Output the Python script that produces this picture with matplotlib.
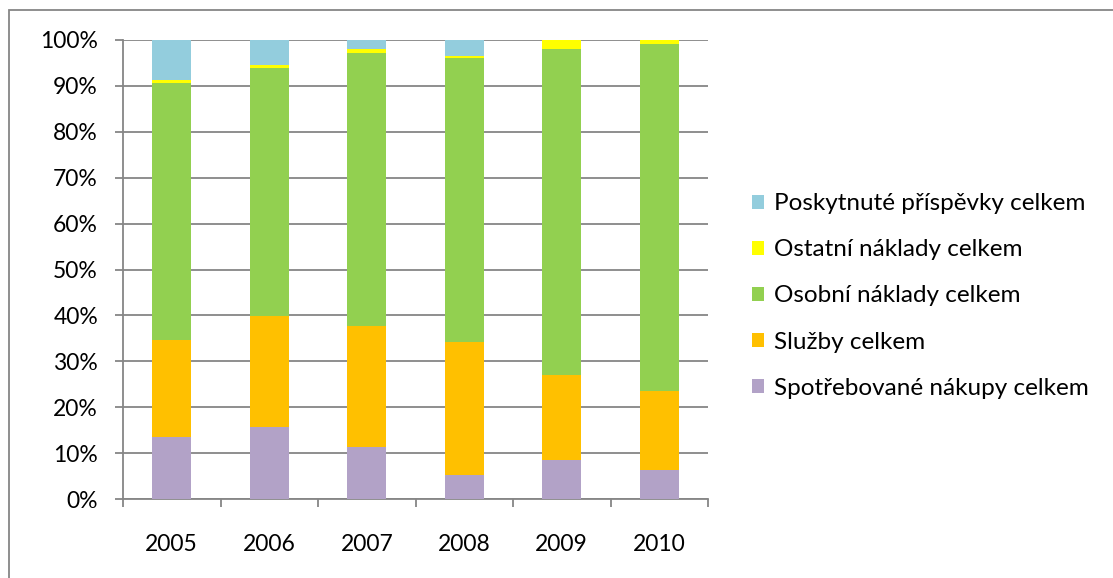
import numpy as np
import matplotlib
matplotlib.use("Agg")
import matplotlib.pyplot as plt
from matplotlib.patches import Rectangle
from matplotlib.ticker import FixedLocator, PercentFormatter

plt.rcParams['font.family'] = ['Lato', 'DejaVu Sans']

# Data (share of total costs, %)
years = ["2005", "2006", "2007", "2008", "2009", "2010"]
spotrebovane = [13.4, 15.7, 11.4, 5.2, 8.6, 6.3]
sluzby = [21.2, 24.2, 26.2, 29.1, 18.4, 17.2]
osobni = [56.0, 54.1, 59.5, 61.8, 71.0, 75.6]
ostatni = [0.7, 0.6, 0.9, 0.5, 2.0, 0.9]
prispevky = [8.7, 5.4, 2.0, 3.4, 0.0, 0.0]

series = [
    ("Spotřebované nákupy celkem", spotrebovane, "#B2A2C7"),
    ("Služby celkem", sluzby, "#FFC000"),
    ("Osobní náklady celkem", osobni, "#92D050"),
    ("Ostatní náklady celkem", ostatni, "#FFFF00"),
    ("Poskytnuté příspěvky celkem", prispevky, "#93CDDD"),
]

W, H = 1113, 578
fig = plt.figure(figsize=(W / 100, H / 100), dpi=100)
ax = fig.add_axes([123 / W, 1 - 499 / H, (708 - 123) / W, (499 - 40) / H])

x = np.arange(len(years))
bottom = np.zeros(len(years))
handles = []
for name, vals, col in series:
    vals = np.array(vals)
    b = ax.bar(x, vals, 0.4, bottom=bottom, color=col, label=name, zorder=3)
    handles.append(b)
    bottom += vals

ax.set_xlim(-0.5, len(years) - 0.5)
ax.set_ylim(0, 100)
ax.set_yticks(np.arange(0, 101, 10))
ax.yaxis.set_major_formatter(PercentFormatter(decimals=0))
ax.set_xticks(x)
ax.set_xticklabels(years)
ax.xaxis.set_minor_locator(FixedLocator(np.arange(-0.5, len(years), 1.0)))

grid_col = "#868686"
ax.grid(axis="y", color=grid_col, linewidth=1.3, zorder=0)
for s in ["top", "right"]:
    ax.spines[s].set_visible(False)
for s in ["left", "bottom"]:
    ax.spines[s].set_color(grid_col)
    ax.spines[s].set_linewidth(1.3)

fs = 16.5
ax.tick_params(axis="y", length=6, width=1.3, color=grid_col, pad=12, labelsize=fs)
ax.tick_params(axis="x", which="major", length=0, pad=25, labelsize=fs)
ax.tick_params(axis="x", which="minor", length=6, width=1.3, color=grid_col)

leg = fig.legend(handles[::-1], [s[0] for s in series][::-1],
                 loc="center left", bbox_to_anchor=(752 / W, 1 - 296 / H),
                 frameon=False, fontsize=17.5, handlelength=0.5, handleheight=0.5,
                 handletextpad=0.41, labelspacing=1.03, borderpad=0, borderaxespad=0)

# outer chart border
fig.patches.append(Rectangle((9 / W, -0.1), 1.2, 1.1 - 10 / H, transform=fig.transFigure,
                             fill=False, edgecolor="#868686", linewidth=1.3))

fig.savefig("out.png", dpi=100)
